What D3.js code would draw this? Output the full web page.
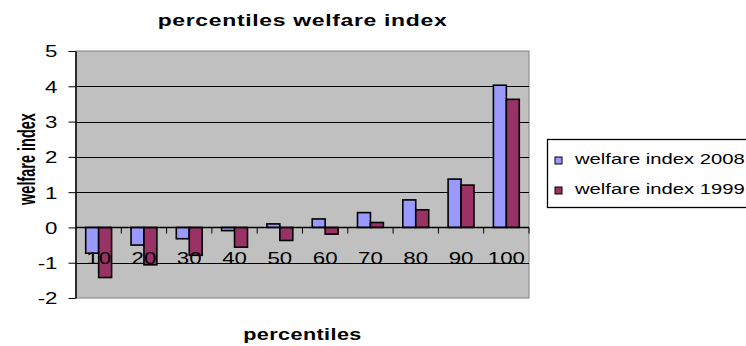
<!DOCTYPE html>
<html>
<head>
<meta charset="utf-8">
<script src="https://cdn.jsdelivr.net/npm/d3@7"></script>
<style>
  body { margin: 0; background: #fff; }
  text { font-family: "Liberation Sans", Arial, sans-serif; fill: #000; }
</style>
</head>
<body>
<div id="chart"></div>
<script>
var categories = ["10", "20", "30", "40", "50", "60", "70", "80", "90", "100"];
var index2008 = [-0.73, -0.50, -0.32, -0.09, 0.10, 0.24, 0.42, 0.78, 1.37, 4.03];
var index1999 = [-1.42, -1.06, -0.79, -0.56, -0.37, -0.19, 0.14, 0.50, 1.20, 3.63];
var seriesNames = ["welfare index 2008", "welfare index 1999"];
var colors = ["#9999FF", "#993366"];
var yTicks = [-2, -1, 0, 1, 2, 3, 4, 5];

var width = 746, height = 346;
var plot = {left: 76, right: 529, top: 51, bottom: 298};
var sx = 1.35; // text in the picture is stretched sideways

var svg = d3.select("#chart").append("svg")
  .attr("width", width)
  .attr("height", height);

var x = d3.scaleBand().domain(categories).range([plot.left, plot.right]);
var x1 = d3.scaleBand().domain([0, 1]).range([0, x.bandwidth()])
  .paddingInner(0).paddingOuter(0.75);
var y = d3.scaleLinear().domain([-2, 5]).range([plot.bottom, plot.top]);

// plot area
svg.append("rect")
  .attr("x", plot.left).attr("y", plot.top)
  .attr("width", plot.right - plot.left)
  .attr("height", plot.bottom - plot.top)
  .attr("fill", "#C0C0C0")
  .attr("stroke", "#808080");

// gridlines
svg.append("g").selectAll("line")
  .data(yTicks.filter(function(d) { return d > -2 && d < 5; }))
  .enter().append("line")
  .attr("x1", plot.left).attr("x2", plot.right)
  .attr("y1", function(d) { return Math.round(y(d)) + 0.5; })
  .attr("y2", function(d) { return Math.round(y(d)) + 0.5; })
  .attr("stroke", "#000");

// bars
var rows = categories.map(function(c, i) {
  return {cat: c, values: [index2008[i], index1999[i]]};
});

svg.append("g").selectAll("g")
  .data(rows)
  .enter().append("g")
  .attr("transform", function(d) { return "translate(" + x(d.cat) + ",0)"; })
  .selectAll("rect")
  .data(function(d) { return d.values; })
  .enter().append("rect")
  .attr("x", function(d, i) { return x1(i); })
  .attr("width", x1.bandwidth())
  .attr("y", function(d) { return y(Math.max(0, d)); })
  .attr("height", function(d) { return Math.abs(y(d) - y(0)); })
  .attr("fill", function(d, i) { return colors[i]; })
  .attr("stroke", "#000")
  .attr("stroke-width", 1.6);

// y axis
var yAxis = svg.append("g")
  .attr("transform", "translate(" + (plot.left - 0.5) + ",0)")
  .call(d3.axisLeft(y).tickValues(yTicks).tickSize(7).tickSizeOuter(0).tickPadding(0));
yAxis.select(".domain").attr("stroke", "#000").attr("stroke-width", 1.5);
yAxis.selectAll(".tick line").attr("stroke", "#000");
yAxis.selectAll(".tick text").remove();
yAxis.selectAll(".tick").append("text")
  .attr("transform", "translate(-18,0) scale(" + sx + ",1)")
  .attr("text-anchor", "end")
  .attr("dy", "0.36em")
  .style("font-size", "16.5px")
  .text(function(d) { return d; });

// x axis at zero: ticks on category boundaries
var xAxis = svg.append("g")
  .attr("transform", "translate(0," + (Math.round(y(0)) + 0.5) + ")");
xAxis.append("line")
  .attr("x1", plot.left).attr("x2", plot.right)
  .attr("stroke", "#000")
  .attr("stroke-width", 1.5);
xAxis.selectAll(".bound")
  .data(categories)
  .enter().append("line")
  .attr("class", "bound")
  .attr("x1", function(d, i) { return plot.left + x.step() * (i + 1); })
  .attr("x2", function(d, i) { return plot.left + x.step() * (i + 1); })
  .attr("y1", 0).attr("y2", 6)
  .attr("stroke", "#000");
xAxis.selectAll(".lbl")
  .data(categories)
  .enter().append("text")
  .attr("class", "lbl")
  .attr("transform", function(d) {
    return "translate(" + (x(d) + x.bandwidth() / 2) + ",36) scale(" + sx + ",1)";
  })
  .attr("text-anchor", "middle")
  .style("font-size", "16.5px")
  .text(function(d) { return d; });

// titles
svg.append("text")
  .attr("transform", "translate(" + ((plot.left + plot.right) / 2) + ",26) scale(" + sx + ",1)")
  .attr("text-anchor", "middle")
  .style("font-size", "17px")
  .style("font-weight", "bold")
  .style("letter-spacing", "0.5px")
  .text("percentiles welfare index");

svg.append("text")
  .attr("transform", "translate(" + ((plot.left + plot.right) / 2) + ",340) scale(" + sx + ",1)")
  .attr("text-anchor", "middle")
  .style("font-size", "16px")
  .style("font-weight", "bold")
  .style("letter-spacing", "0.3px")
  .text("percentiles");

svg.append("text")
  .attr("transform", "translate(35,159) scale(1.6,1) rotate(-90)")
  .attr("text-anchor", "middle")
  .style("font-size", "14.5px")
  .style("font-weight", "bold")
  .text("welfare index");

// legend
var legend = svg.append("g");
legend.append("rect")
  .attr("x", 547.5).attr("y", 139.5)
  .attr("width", 220).attr("height", 68)
  .attr("fill", "#fff")
  .attr("stroke", "#000")
  .attr("stroke-width", 1.3);

var item = legend.selectAll(".item")
  .data(seriesNames)
  .enter().append("g")
  .attr("class", "item")
  .attr("transform", function(d, i) { return "translate(0," + (i * 30) + ")"; });
item.append("rect")
  .attr("x", 555).attr("y", 157)
  .attr("width", 7).attr("height", 7)
  .attr("fill", function(d, i) { return colors[i]; })
  .attr("stroke", "#000");
item.append("text")
  .attr("transform", "translate(575,164) scale(" + sx + ",1)")
  .style("font-size", "15px")
  .text(function(d) { return d; });
</script>
</body>
</html>
